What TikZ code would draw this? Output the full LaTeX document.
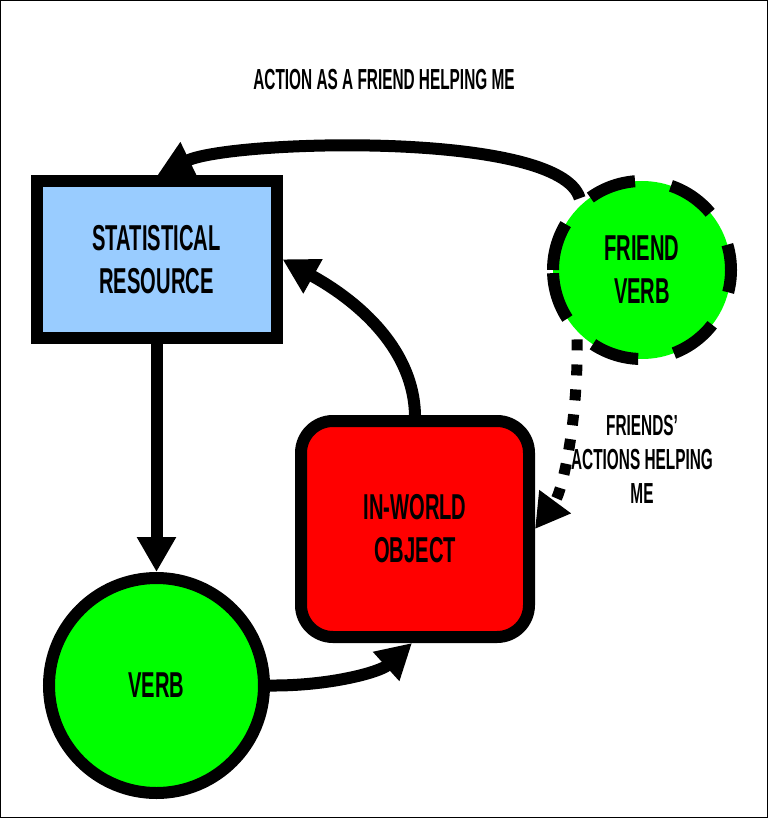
\documentclass[tikz,border=0pt]{standalone}
\usepackage{fontspec}
\setmainfont{Liberation Sans}[FakeStretch=0.56]
\newfontfamily\captionfamily{Liberation Sans}[FakeStretch=0.53]
\usetikzlibrary{arrows.meta}
\pgfdeclarelayer{bg}
\pgfsetlayers{bg,main}

\definecolor{leafgreen}{RGB}{0,255,0}
\definecolor{skyblue}{RGB}{153,204,255}
\definecolor{brightred}{RGB}{255,0,0}

\tikzset{
  lbl/.style={font=\bfseries\fontsize{36}{43}\selectfont, align=center, text=black},
  caption/.style={font=\captionfamily\bfseries\fontsize{29}{34}\selectfont, align=center, text=black},
  heavybox/.style={draw=black, line width=12pt, inner sep=0pt, outer sep=6pt},
  conn/.style={line width=12pt, -{Triangle[length=35pt,width=37pt]}},
  dotconn/.style={line width=11pt, dash pattern=on 11pt off 14pt,
                  -{Triangle[length=34pt,width=37pt]}},
  ringdash/.style={draw=black, line width=12pt,
                   dash pattern=on 48.15pt off 36.5pt},
}

\begin{document}
\begin{tikzpicture}[x=1pt,y=1pt]
  \useasboundingbox (0,0) rectangle (769,-818);
  \draw[line width=1.3pt] (0.8,-0.8) rectangle (767.8,-817.2);

  % nodes
  \node[heavybox, rectangle, fill=skyblue, minimum width=240pt, minimum height=156.5pt, lbl]
    (stat) at (156.5,-259.25) {STATISTICAL\\RESOURCE};
  \node[heavybox, rectangle, rounded corners=32pt, fill=brightred,
        minimum width=228pt, minimum height=216pt, lbl]
    (obj) at (415,-529) {IN-WORLD\\OBJECT};
  \node[heavybox, circle, fill=leafgreen, minimum size=215pt, lbl]
    (verb) at (156.5,-685.5) {VERB};
  \node[circle, fill=leafgreen, inner sep=0pt, outer sep=6pt, minimum size=178pt, lbl]
    (friend) at (642,-270) {FRIEND\\VERB};
  % dashed ring of the friend node, traced clockwise from its left point
  \draw[ringdash] ([xshift=-89pt]friend.center)
    arc[start angle=180, end angle=-180, radius=89pt];

  % labels
  \node[caption] (title) at (384,-80) {ACTION AS A FRIEND HELPING ME};
  \node[caption] (helping) at (642,-459) {FRIENDS’\\ACTIONS HELPING\\ME};

  % connectors
  \begin{pgfonlayer}{bg}
    \draw[conn] (stat.south) -- (verb.north);
    \draw[conn] (verb.east) .. controls (330,-686) and (380,-672) .. ([xshift=-3pt]obj.south);
    \draw[conn] (obj.north) .. controls (413,-330) and (323,-282) .. (stat.east);
    \draw[conn] (friend.131) .. controls (560,-130) and (230,-140) .. ([xshift=1pt]stat.north);
    \draw[dotconn] (friend.227) .. controls (578,-420) and (563,-491) .. (obj.east);
  \end{pgfonlayer}
\end{tikzpicture}
\end{document}
